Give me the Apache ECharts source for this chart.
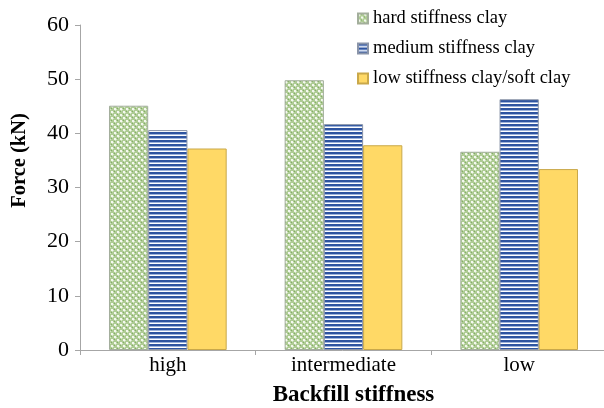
<!DOCTYPE html>
<html>
<head>
<meta charset="utf-8">
<script src="https://cdn.jsdelivr.net/npm/echarts@6/dist/echarts.min.js"></script>
<style>
  html, body { margin: 0; padding: 0; background: #fff; }
  #chart { width: 604px; height: 408px; }
</style>
</head>
<body>
<div id="chart"></div>
<script>
// Backfill stiffness categories and forces (kN) per clay type
const categories = ['high', 'intermediate', 'low'];
const seriesNames = ['hard stiffness clay', 'medium stiffness clay', 'low stiffness clay/soft clay'];
const hardClay = [45.1, 49.8, 36.6];
const mediumClay = [40.6, 41.7, 46.3];
const softClay = [37.2, 37.8, 33.4];
const yTicks = { min: 0, max: 60, interval: 10 };

const FONT = '"Liberation Serif", "Times New Roman", serif';

// Small tiled canvases used as bar fills
function crossHatch() {
  const c = document.createElement('canvas');
  c.width = 6; c.height = 6;
  const g = c.getContext('2d');
  g.fillStyle = '#aecb94';
  g.fillRect(0, 0, 6, 6);
  g.fillStyle = '#f4f8ef';
  g.fillRect(0, 0, 2, 2);
  g.fillRect(3, 3, 2, 2);
  g.fillStyle = '#d4e5c6';
  g.fillRect(2, 1, 1, 1);
  g.fillRect(1, 2, 1, 1);
  g.fillRect(5, 4, 1, 1);
  g.fillRect(4, 5, 1, 1);
  g.fillStyle = '#84ad68';
  g.fillRect(3, 0, 1, 1);
  g.fillRect(0, 3, 1, 1);
  return c;
}
function stripes() {
  const c = document.createElement('canvas');
  c.width = 4; c.height = 4;
  const g = c.getContext('2d');
  g.fillStyle = '#ffffff';
  g.fillRect(0, 0, 4, 4);
  g.fillStyle = '#2e54a0';
  g.fillRect(0, 0, 4, 2);
  g.fillStyle = '#9db3dc';
  g.fillRect(0, 2, 4, 1);
  return c;
}

const fills = [
  { image: crossHatch(), repeat: 'repeat' },
  { image: stripes(), repeat: 'repeat' },
  '#ffd966'
];
const borders = ['#a3ae9c', '#8a94a8', '#c9a84a'];
const values = [hardClay, mediumClay, softClay];

const chart = echarts.init(document.getElementById('chart'), null, { renderer: 'canvas' });
chart.setOption({
  animation: false,
  backgroundColor: '#ffffff',
  legend: {
    orient: 'vertical',
    left: 352,
    top: 4,
    itemWidth: 10,
    itemHeight: 10,
    itemGap: 11,
    icon: 'rect',
    textStyle: { fontFamily: FONT, fontSize: 18.5, color: '#000', padding: [0, 0, 0, 0] },
    data: seriesNames
  },
  grid: { left: 80, right: -3, top: 25, bottom: 58, containLabel: false, outerBoundsMode: 'none' },
  xAxis: {
    type: 'category',
    data: categories,
    name: 'Backfill stiffness',
    nameLocation: 'middle',
    nameGap: 34,
    nameTextStyle: { fontFamily: FONT, fontSize: 23, fontWeight: 'bold', color: '#000', padding: [0, 0, 0, 20] },
    axisLine: { lineStyle: { color: '#a6a6a6', width: 1 } },
    axisTick: { show: true, length: 5, lineStyle: { color: '#a6a6a6' } },
    axisLabel: { fontFamily: FONT, fontSize: 21, color: '#000', margin: 5 }
  },
  yAxis: {
    type: 'value',
    min: yTicks.min,
    max: yTicks.max,
    interval: yTicks.interval,
    name: 'Force (kN)',
    nameLocation: 'middle',
    nameGap: 50,
    nameTextStyle: { fontFamily: FONT, fontSize: 20.5, fontWeight: 'bold', color: '#000', padding: [0, 0, 0, 54] },
    axisLine: { show: true, lineStyle: { color: '#a6a6a6', width: 1 } },
    axisTick: { show: true, length: 5, lineStyle: { color: '#a6a6a6' } },
    splitLine: { show: false },
    axisLabel: { fontFamily: FONT, fontSize: 22, color: '#000', margin: 11 }
  },
  series: seriesNames.map((name, i) => ({
    name,
    type: 'bar',
    data: values[i],
    barGap: '0%',
    barCategoryGap: '33%',
    itemStyle: { color: fills[i], borderColor: borders[i], borderWidth: 1 }
  }))
});
</script>
</body>
</html>
